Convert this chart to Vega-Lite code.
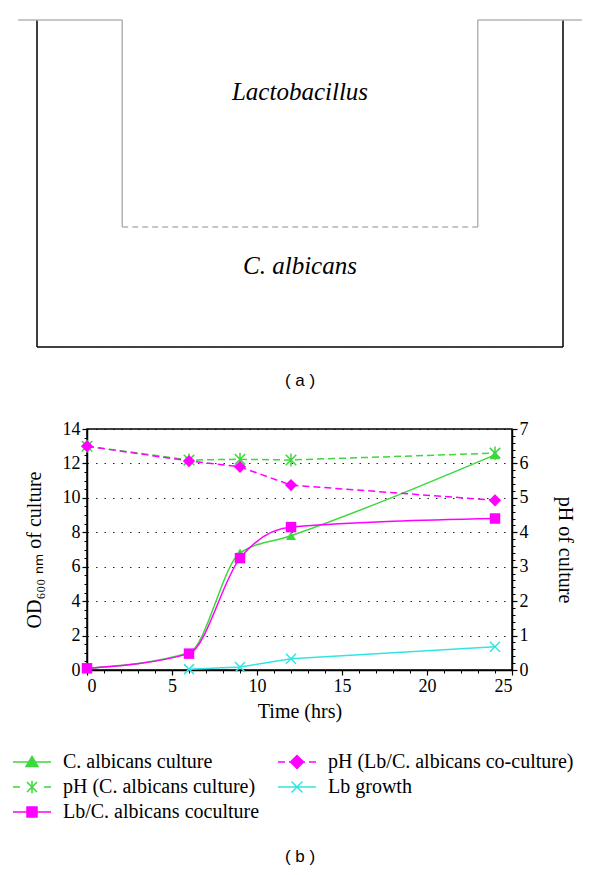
{
  "$schema": "https://vega.github.io/schema/vega-lite/v6.json",
  "autosize": {"type": "none"},
  "width": 425,
  "height": 241,
  "padding": {"left": 87, "top": 429, "right": 88, "bottom": 205},
  "background": "white",
  "datasets": {
    "obs": [
      {"series": "C. albicans culture", "t": 0, "v": 0.1},
      {"series": "C. albicans culture", "t": 6, "v": 1.0},
      {"series": "C. albicans culture", "t": 9, "v": 6.8},
      {"series": "C. albicans culture", "t": 12, "v": 7.8},
      {"series": "C. albicans culture", "t": 24, "v": 12.5},
      {"series": "pH (C. albicans culture)", "t": 0, "v": 6.5},
      {"series": "pH (C. albicans culture)", "t": 6, "v": 6.1},
      {"series": "pH (C. albicans culture)", "t": 9, "v": 6.12},
      {"series": "pH (C. albicans culture)", "t": 12, "v": 6.1},
      {"series": "pH (C. albicans culture)", "t": 24, "v": 6.3},
      {"series": "Lb/C. albicans coculture", "t": 0, "v": 0.1},
      {"series": "Lb/C. albicans coculture", "t": 6, "v": 0.95},
      {"series": "Lb/C. albicans coculture", "t": 9, "v": 6.5},
      {"series": "Lb/C. albicans coculture", "t": 12, "v": 8.3},
      {"series": "Lb/C. albicans coculture", "t": 24, "v": 8.8},
      {"series": "pH (Lb/C. albicans co-culture)", "t": 0, "v": 6.5},
      {"series": "pH (Lb/C. albicans co-culture)", "t": 6, "v": 6.07},
      {"series": "pH (Lb/C. albicans co-culture)", "t": 9, "v": 5.9},
      {"series": "pH (Lb/C. albicans co-culture)", "t": 12, "v": 5.37},
      {"series": "pH (Lb/C. albicans co-culture)", "t": 24, "v": 4.93},
      {"series": "Lb growth", "t": 6, "v": 0.05},
      {"series": "Lb growth", "t": 9, "v": 0.17},
      {"series": "Lb growth", "t": 12, "v": 0.65},
      {"series": "Lb growth", "t": 24, "v": 1.35}
    ],
    "well": [
      {"part": "wall", "x1": 0, "y1": 100, "x2": 0, "y2": 0},
      {"part": "wall", "x1": 0, "y1": 0, "x2": 100, "y2": 0},
      {"part": "wall", "x1": 100, "y1": 0, "x2": 100, "y2": 100},
      {"part": "insert", "x1": -3.6, "y1": 100, "x2": 16.2, "y2": 100},
      {"part": "insert", "x1": 16.2, "y1": 100, "x2": 16.2, "y2": 36.7},
      {"part": "insert", "x1": 83.8, "y1": 36.7, "x2": 83.8, "y2": 100},
      {"part": "insert", "x1": 83.8, "y1": 100, "x2": 103.6, "y2": 100},
      {"part": "membrane", "x1": 16.2, "y1": 36.7, "x2": 83.8, "y2": 36.7}
    ],
    "notes": [
      {"kind": "organism", "text": "Lactobacillus", "x": 50, "y": 78},
      {"kind": "organism", "text": "C. albicans", "x": 50, "y": 24.8},
      {"kind": "caption", "text": "( a )", "x": 50, "y": -10.4},
      {"kind": "caption", "text": "( b )", "x": 50, "y": -156}
    ]
  },
  "config": {
    "view": {"stroke": "black", "strokeWidth": 1.5},
    "axis": {
      "labelFont": "Liberation Serif",
      "labelFontSize": 18,
      "labelColor": "black",
      "titleFont": "Liberation Serif",
      "titleFontSize": 20,
      "titleFontWeight": "normal",
      "titleColor": "black",
      "domainColor": "black",
      "domainWidth": 1.5,
      "tickColor": "black",
      "tickWidth": 1.2,
      "tickSize": 5,
      "labelPadding": 2,
      "labelOverlap": false,
      "gridColor": "black",
      "gridDash": [1.5, 7],
      "gridWidth": 1.2,
      "gridOpacity": 0.85
    }
  },
  "layer": [
    {
      "layer": [
        {
          "data": {"name": "obs"},
          "transform": [{"filter": "datum.series === 'C. albicans culture' || datum.series === 'Lb/C. albicans coculture' || datum.series === 'Lb growth'"}],
          "encoding": {
            "x": {"field": "t", "type": "quantitative", "scale": {"domain": [0, 25]}, "axis": {"orient": "bottom", "values": [0, 5, 10, 15, 20, 25], "title": "Time (hrs)", "titlePadding": 6, "grid": false, "labelFont": "Liberation Serif", "labelFontSize": 18, "labelOverlap": false}},
            "y": {"field": "v", "type": "quantitative", "scale": {"domain": [0, 14]}, "axis": {"orient": "left", "values": [0, 2, 4, 6, 8, 10, 12, 14], "grid": true, "title": "OD₆₀₀ ₙₘ of culture", "titlePadding": 18, "labelFont": "Liberation Serif", "labelFontSize": 18, "labelOverlap": false}},
            "color": {"field": "series", "type": "nominal", "legend": null, "scale": {"domain": ["C. albicans culture", "pH (C. albicans culture)", "Lb/C. albicans coculture", "pH (Lb/C. albicans co-culture)", "Lb growth"], "range": ["#3cd83c", "#3cd83c", "#ff00ff", "#ff00ff", "#33e4e4"]}}
          },
          "layer": [
            {
              "transform": [{"filter": "datum.series !== 'Lb growth'"}],
              "mark": {"type": "line", "interpolate": "monotone", "strokeWidth": 1.5}
            },
            {
              "transform": [{"filter": "datum.series === 'Lb growth'"}],
              "mark": {"type": "line", "strokeWidth": 1.5}
            },
            {
              "transform": [{"filter": "datum.series === 'C. albicans culture'"}],
              "mark": {"type": "point", "shape": "triangle-up", "filled": true, "opacity": 1, "size": 100}
            },
            {
              "transform": [{"filter": "datum.series === 'Lb/C. albicans coculture'"}],
              "mark": {"type": "point", "shape": "square", "filled": true, "opacity": 1, "size": 110}
            },
            {
              "transform": [{"filter": "datum.series === 'Lb growth'"}],
              "mark": {"type": "point", "shape": "M-1,-1L1,1M-1,1L1,-1", "filled": false, "opacity": 1, "size": 100, "strokeWidth": 1.5}
            }
          ]
        },
        {
          "data": {"name": "obs"},
          "transform": [{"filter": "datum.series === 'pH (C. albicans culture)' || datum.series === 'pH (Lb/C. albicans co-culture)'"}],
          "encoding": {
            "x": {"field": "t", "type": "quantitative", "scale": {"domain": [0, 25]}, "axis": null},
            "y": {"field": "v", "type": "quantitative", "scale": {"domain": [0, 7]}, "axis": {"orient": "right", "values": [0, 1, 2, 3, 4, 5, 6, 7], "grid": false, "title": "pH of culture", "titlePadding": 26, "labelFont": "Liberation Serif", "labelFontSize": 18, "labelOverlap": false}},
            "color": {"field": "series", "type": "nominal", "legend": null, "scale": {"domain": ["C. albicans culture", "pH (C. albicans culture)", "Lb/C. albicans coculture", "pH (Lb/C. albicans co-culture)", "Lb growth"], "range": ["#3cd83c", "#3cd83c", "#ff00ff", "#ff00ff", "#33e4e4"]}}
          },
          "layer": [
            {
              "mark": {"type": "line", "strokeWidth": 1.5, "strokeDash": [7, 4]}
            },
            {
              "transform": [{"filter": "datum.series === 'pH (C. albicans culture)'"}],
              "mark": {"type": "point", "shape": "M-1,-1L1,1M-1,1L1,-1M0,-1.25V1.25", "filled": false, "opacity": 1, "size": 110, "strokeWidth": 1.5}
            },
            {
              "transform": [{"filter": "datum.series === 'pH (Lb/C. albicans co-culture)'"}],
              "mark": {"type": "point", "shape": "diamond", "filled": true, "opacity": 1, "size": 150}
            }
          ]
        },
        {
          "data": {"name": "obs"},
          "mark": {"type": "point", "opacity": 0},
          "encoding": {
            "x": {"field": "t", "type": "quantitative", "scale": {"domain": [0, 25]}, "axis": {"orient": "bottom", "values": [1, 2, 3, 4, 6, 7, 8, 9, 11, 12, 13, 14, 16, 17, 18, 19, 21, 22, 23, 24], "labels": false, "domain": false, "grid": false, "title": null, "ticks": true, "tickSize": 3, "tickColor": "black", "tickWidth": 1}},
            "y": {"field": "v", "type": "quantitative", "scale": {"domain": [0, 14]}, "axis": {"orient": "left", "values": [0.5, 1, 1.5, 2.5, 3, 3.5, 4.5, 5, 5.5, 6.5, 7, 7.5, 8.5, 9, 9.5, 10.5, 11, 11.5, 12.5, 13, 13.5], "labels": false, "domain": false, "grid": false, "title": null, "ticks": true, "tickSize": 3, "tickColor": "black", "tickWidth": 1}}
          }
        },
        {
          "data": {"name": "obs"},
          "mark": {"type": "point", "opacity": 0},
          "encoding": {
            "x": {"field": "t", "type": "quantitative", "scale": {"domain": [0, 25]}, "axis": null},
            "y": {"field": "v", "type": "quantitative", "scale": {"domain": [0, 7]}, "axis": {"orient": "right", "values": [0.2, 0.4, 0.6, 0.8, 1.2, 1.4, 1.6, 1.8, 2.2, 2.4, 2.6, 2.8, 3.2, 3.4, 3.6, 3.8, 4.2, 4.4, 4.6, 4.8, 5.2, 5.4, 5.6, 5.8, 6.2, 6.4, 6.6, 6.8], "labels": false, "domain": false, "grid": false, "title": null, "ticks": true, "tickSize": 3, "tickColor": "black", "tickWidth": 1}}
          }
        },
        {
          "data": {"name": "obs"},
          "transform": [{"filter": "false"}],
          "mark": {"type": "point", "filled": true, "opacity": 1, "strokeWidth": 1.5},
          "encoding": {
            "fill": {"field": "series", "type": "nominal",
              "scale": {"domain": ["C. albicans culture", "pH (C. albicans culture)", "Lb/C. albicans coculture", "pH (Lb/C. albicans co-culture)", "Lb growth"], "range": ["#3cd83c", "#3cd83c", "#ff00ff", "#ff00ff", "#33e4e4"]},
              "legend": {"title": null, "orient": "none", "legendX": -65, "legendY": 323, "columns": 2, "symbolSize": 100, "symbolStrokeWidth": 1.5, "labelFont": "Liberation Serif", "labelFontSize": 20, "labelColor": "black", "labelOffset": 21, "symbolOffset": 0, "rowPadding": 5, "columnPadding": 15, "padding": 0, "labelLimit": 400}},
            "stroke": {"field": "series", "type": "nominal",
              "scale": {"domain": ["C. albicans culture", "pH (C. albicans culture)", "Lb/C. albicans coculture", "pH (Lb/C. albicans co-culture)", "Lb growth"], "range": ["#3cd83c", "#3cd83c", "#ff00ff", "#ff00ff", "#33e4e4"]},
              "legend": {"title": null, "orient": "none", "legendX": -65, "legendY": 323, "columns": 2, "symbolSize": 100, "symbolStrokeWidth": 1.5, "labelFont": "Liberation Serif", "labelFontSize": 20, "labelColor": "black", "labelOffset": 21, "symbolOffset": 0, "rowPadding": 5, "columnPadding": 15, "padding": 0, "labelLimit": 400}},
            "shape": {"field": "series", "type": "nominal",
              "scale": {"domain": ["C. albicans culture", "pH (C. albicans culture)", "Lb/C. albicans coculture", "pH (Lb/C. albicans co-culture)", "Lb growth"],
                "range": [
                  "M-3.8,0H3.8M0,-1.1L1.2,0.9L-1.2,0.9Z",
                  "M-3.8,0H-2.4M2.4,0H3.8M-1,-1L1,1M-1,1L1,-1M0,-1.25V1.25",
                  "M-3.8,0H3.8M-1,-1H1V1H-1Z",
                  "M-3.8,0H-2.4M-1.6,0H-1.2M1.2,0H1.6M2.4,0H3.8M0,-1.3L1.3,0L0,1.3L-1.3,0Z",
                  "M-3.8,0H3.8M-1.1,-1.1L1.1,1.1M-1.1,1.1L1.1,-1.1"
                ]},
              "legend": {"title": null, "orient": "none", "legendX": -65, "legendY": 323, "columns": 2, "symbolSize": 100, "symbolStrokeWidth": 1.5, "labelFont": "Liberation Serif", "labelFontSize": 20, "labelColor": "black", "labelOffset": 21, "symbolOffset": 0, "rowPadding": 5, "columnPadding": 15, "padding": 0, "labelLimit": 400}}
          }
        }
      ],
      "resolve": {"scale": {"x": "independent", "y": "independent"}, "axis": {"x": "independent", "y": "independent"}}
    },
    {
      "layer": [
        {
          "data": {"name": "well"},
          "mark": {"type": "rule", "strokeWidth": 1.5},
          "encoding": {
            "x": {"field": "x1", "type": "quantitative", "scale": {"domain": [9.506, 90.304], "nice": false, "zero": false}, "axis": null},
            "y": {"field": "y1", "type": "quantitative", "scale": {"domain": [-98.78, -25.08], "nice": false, "zero": false}, "axis": null},
            "x2": {"field": "x2"},
            "y2": {"field": "y2"},
            "color": {"field": "part", "type": "nominal", "legend": null, "scale": {"domain": ["wall", "insert", "membrane"], "range": ["#000000", "#b4b4b4", "#b4b4b4"]}},
            "strokeDash": {"field": "part", "type": "nominal", "legend": null, "scale": {"domain": ["wall", "insert", "membrane"], "range": [[1, 0], [1, 0], [6, 4]]}}
          }
        },
        {
          "data": {"name": "notes"},
          "transform": [{"filter": "datum.kind === 'organism'"}],
          "mark": {"type": "text", "font": "Liberation Serif", "fontStyle": "italic", "fontSize": 25, "align": "center", "baseline": "middle", "color": "black"},
          "encoding": {
            "x": {"field": "x", "type": "quantitative"},
            "y": {"field": "y", "type": "quantitative"},
            "text": {"field": "text"}
          }
        },
        {
          "data": {"name": "notes"},
          "transform": [{"filter": "datum.kind === 'caption'"}],
          "mark": {"type": "text", "font": "Liberation Sans", "fontSize": 17, "align": "center", "baseline": "middle", "color": "black"},
          "encoding": {
            "x": {"field": "x", "type": "quantitative"},
            "y": {"field": "y", "type": "quantitative"},
            "text": {"field": "text"}
          }
        }
      ],
      "resolve": {"scale": {"color": "independent", "strokeDash": "independent"}}
    }
  ],
  "resolve": {"scale": {"x": "independent", "y": "independent", "color": "independent", "strokeDash": "independent"}, "axis": {"x": "independent", "y": "independent"}}
}
